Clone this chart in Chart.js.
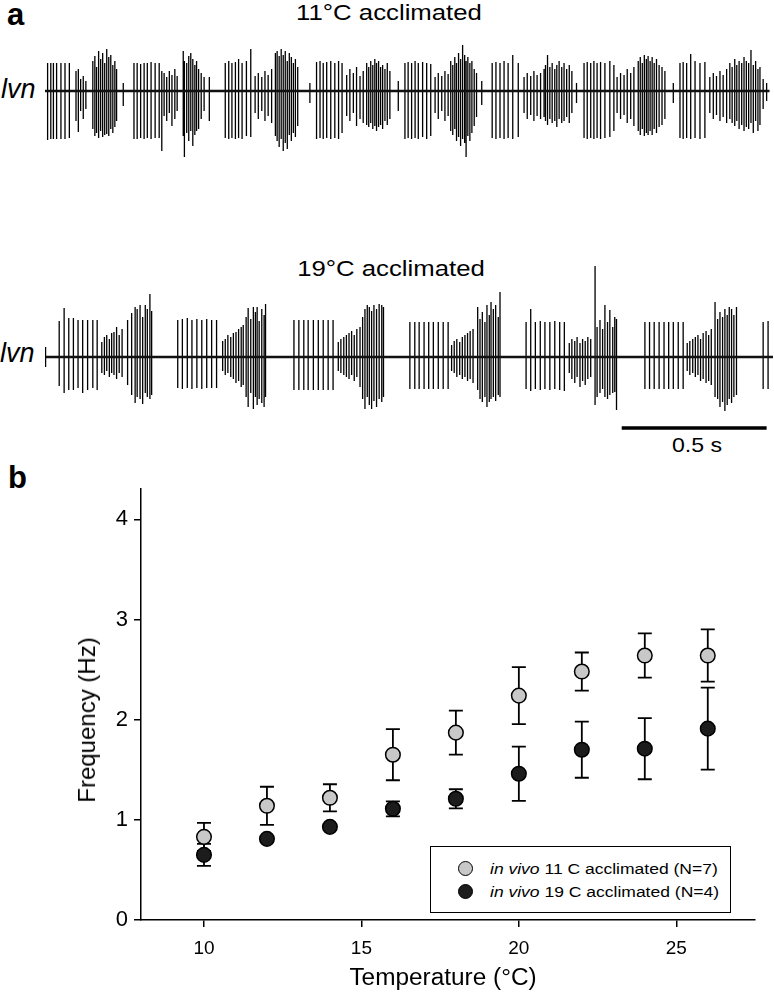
<!DOCTYPE html>
<html>
<head>
<meta charset="utf-8">
<script src="https://cdn.jsdelivr.net/npm/chart.js@4.4.0/dist/chart.umd.min.js"></script>
<style>
  body { margin: 0; background: #fff; width: 774px; height: 995px; position: relative; overflow: hidden;
         font-family: "Liberation Sans", Arial, sans-serif; color: #000; }
  canvas { position: absolute; }
  .txt { position: absolute; line-height: 1; white-space: nowrap; }
  #legend { position: absolute; left: 430px; top: 846px; width: 301px; height: 67px; box-sizing: border-box;
            border: 1.5px solid #000; background: #fff; }
  .leg-row { position: absolute; left: 0; height: 20px; }
  .leg-dot { position: absolute; width: 15px; height: 15px; border-radius: 50%; box-sizing: border-box; border: 1.5px solid #000; }
  .leg-txt { position: absolute; font-size: 14px; line-height: 1; white-space: nowrap; transform: scaleX(1.25); transform-origin: left center; }
</style>
</head>
<body>

<div class="txt" style="left:7px; top:-1px; font-size:31px; font-weight:bold;">a</div>
<div class="txt" style="left:8px; top:462px; font-size:31px; font-weight:bold;">b</div>

<div class="txt" style="left:389px; top:2px; font-size:22px; transform:translateX(-50%) scaleX(1.17);">11°C acclimated</div>
<div class="txt" style="left:391px; top:258px; font-size:22px; transform:translateX(-50%) scaleX(1.17);">19°C acclimated</div>
<div class="txt" style="left:1px; top:76px; font-size:27px; font-style:italic;">lvn</div>
<div class="txt" style="left:0px; top:340px; font-size:27px; font-style:italic;">lvn</div>
<div class="txt" style="left:697px; top:434px; font-size:21px; transform:translateX(-50%) scaleX(1.1);">0.5 s</div>

<canvas id="trace11" width="728" height="130" style="left:45px; top:36px;"></canvas>
<canvas id="trace19" width="728" height="180" style="left:45px; top:262px;"></canvas>
<canvas id="freqChart" width="774" height="525" style="left:0px; top:470px;"></canvas>

<div class="txt" style="left:87px; top:720px; font-size:24px; transform:translate(-50%,-50%) rotate(-90deg);">Frequency (Hz)</div>
<div class="txt" style="left:443px; top:966px; font-size:23px; transform:translateX(-50%) scaleX(1.06);">Temperature (°C)</div>

<div id="legend"></div>

<script>
// ---- panel a: lvn recordings, spikes as [time ms, up amplitude, down amplitude] ----
const spikes11 = [
  [9,28,49],[20,28,48],[29,28,48],[40,28,48],[55,28,48],[69,28,48],[84,28,47],
  [107,20,30],[115,22,41],[123,12,20],[132,15,28],[141,10,18],
  [165,30,38],[172,35,45],[178,24,42],[185,40,47],[192,32,40],[199,38,46],[206,28,44],[213,42,43],[220,34,45],[227,36,38],[234,26,42],[241,30,36],[247,22,30],
  [270,8,15],
  [307,28,48],[318,28,48],[330,27,47],[342,28,48],[353,28,47],[366,29,48],[380,28,47],[394,28,47],[403,20,60],
  [411,18,25],[420,14,30],[429,20,22],[438,16,35],[448,22,28],[456,15,20],
  [477,40,45],[481,30,66],[489,28,42],[496,35,50],[503,38,40],[510,32,55],[517,26,44],[523,30,40],[530,22,38],[539,18,28],[549,14,20],
  [567,14,30],
  [622,28,47],[634,30,48],[645,28,47],[657,29,48],[668,32,47],[680,28,48],[695,30,45],[710,42,46],
  [725,15,22],[736,18,28],[748,14,20],[759,20,30],[770,16,25],[782,22,32],
  [795,38,45],[801,40,50],[808,35,56],[815,42,48],[822,36,60],[829,40,52],[836,30,58],[843,38,44],[850,34,50],[857,28,42],[864,32,46],[872,24,35],
  [914,8,12],
  [937,29,48],[949,30,47],[960,28,48],[972,29,47],[986,30,48],[1000,28,47],[1013,30,48],[1025,28,42],
  [1041,16,25],[1052,22,30],[1064,18,22],[1075,24,35],[1087,15,28],[1098,20,32],
  [1110,28,34],[1117,24,36],[1124,30,32],[1131,26,38],[1138,32,35],[1144,28,40],[1151,30,36],[1158,24,34],[1165,26,38],[1173,22,30],[1181,28,34],[1190,20,28],
  [1219,10,20],
  [1242,28,48],[1253,29,47],[1265,28,48],[1277,30,47],[1288,28,48],[1303,29,46],[1317,28,48],[1331,27,45],
  [1346,14,22],[1357,18,28],[1369,15,20],[1380,20,30],[1391,17,25],
  [1400,30,40],[1407,26,44],[1414,34,38],[1420,28,50],[1427,38,46],[1434,32,55],[1441,46,48],[1448,36,52],[1453,30,66],[1459,34,45],[1466,28,50],[1473,30,42],[1481,22,35],[1489,18,26],
  [1507,10,14],
  [1543,28,47],[1556,29,48],[1570,28,47],[1584,30,48],[1598,28,47],[1614,36,48],[1633,28,46],
  [1653,14,22],[1664,18,28],[1676,15,24],[1687,20,30],[1698,16,25],[1710,18,28],
  [1722,22,26],[1727,26,30],[1734,36,34],[1742,24,28],[1750,28,32],[1759,22,30],[1766,26,36],[1774,30,28],[1783,24,32],[1791,28,30],[1800,22,26],[1809,26,32],[1818,20,22],
  [1834,8,12],
  [1860,28,47],[1871,29,48],[1883,28,47],[1894,30,48],[1905,28,47],[1917,29,48],[1932,28,47],[1949,30,46],[1963,26,40],
  [1974,14,22],[1986,18,28],[1998,16,24],[2009,22,32],[2021,18,28],[2032,24,35],
  [2047,30,40],[2054,34,44],[2061,28,38],[2068,36,45],[2075,32,42],[2081,35,44],[2088,30,40],[2095,34,44],[2102,28,38],[2110,32,42],[2119,26,36],[2129,24,34],[2139,20,28],
  [2168,8,12],
  [2191,28,47],[2202,29,48],[2214,28,47],[2228,37,48],[2243,30,47],[2260,28,48],[2277,29,47],
  [2294,14,22],[2306,18,28],[2317,15,24],[2329,20,30],[2340,16,26],[2352,22,32],
  [2363,28,28],[2371,24,32],[2380,32,35],[2387,26,30],[2395,30,38],[2404,28,34],[2412,34,40],[2420,30,36],[2428,28,38],[2436,41,32],[2444,26,42],[2452,30,30],[2460,22,40],[2467,24,34],
  [2478,12,18],[2490,8,10]
];

const spikes19 = [
  [2,10,10],
  [49,36,29],[66,49,36],[82,39,33],[98,39,33],[114,37,31],[130,37,36],[147,37,33],[165,37,31],[180,37,33],
  [196,15,16],[205,20,18],[213,22,14],[222,18,20],[230,24,16],[238,25,18],[247,30,22],[256,22,16],[266,28,20],
  [285,37,28],[299,44,38],[311,50,46],[318,48,40],[328,52,42],[337,40,47],[346,52,36],[353,48,40],[362,63,42],[368,46,38],
  [458,37,31],[474,38,32],[491,39,31],[507,37,32],[524,38,31],[541,37,32],[558,38,31],[575,37,31],[592,37,31],
  [613,16,14],[622,18,18],[631,22,16],[641,20,20],[650,24,22],[659,25,26],[668,28,24],[677,30,30],
  [684,32,28],[694,40,40],[701,49,50],[710,38,36],[719,50,52],[726,45,40],[732,50,48],[739,36,42],[748,48,46],[756,42,50],[761,53,40],
  [859,37,33],[876,37,33],[893,37,33],[908,37,33],[926,37,33],[943,37,33],[960,37,33],[977,37,33],[994,37,33],
  [1012,15,14],[1021,18,16],[1031,20,18],[1040,22,20],[1049,24,22],[1058,26,18],[1067,22,24],[1076,28,20],
  [1087,30,30],[1096,40,42],[1104,48,52],[1112,52,40],[1119,50,48],[1127,46,52],[1135,52,44],[1144,48,50],[1153,53,42],[1162,52,45],[1168,50,40],
  [1259,35,32],[1276,35,32],[1291,35,32],[1308,35,32],[1324,35,32],[1340,35,32],[1357,35,32],[1374,35,32],[1391,35,32],
  [1403,12,14],[1412,16,16],[1421,18,20],[1431,15,18],[1440,20,22],[1449,22,20],[1458,24,24],[1467,26,22],[1477,28,26],
  [1493,50,33],[1501,38,42],[1509,45,45],[1518,35,40],[1525,52,50],[1533,42,45],[1539,55,42],[1547,48,40],[1555,52,44],[1564,40,38],[1570,65,40],
  [1660,35,32],[1676,48,34],[1692,35,32],[1709,36,33],[1725,35,32],[1742,35,33],[1759,36,32],[1776,35,33],[1792,35,34],
  [1809,14,16],[1818,18,22],[1828,16,26],[1836,20,20],[1846,14,30],[1855,18,24],[1864,16,28],[1873,20,22],[1883,18,20],
  [1898,91,48],[1905,30,40],[1915,37,36],[1924,28,32],[1932,52,40],[1941,35,42],[1949,47,38],[1959,30,36],[1966,40,35],[1972,38,53],
  [2070,35,32],[2086,35,32],[2102,35,32],[2119,35,32],[2136,35,32],[2152,35,32],[2168,35,32],[2185,35,32],[2202,35,32],
  [2216,14,14],[2225,16,18],[2235,18,16],[2244,20,20],[2253,22,18],[2262,18,24],[2271,24,22],[2281,26,26],[2290,22,24],[2299,28,28],
  [2312,55,40],[2321,38,42],[2329,45,50],[2338,40,45],[2346,48,54],[2354,42,48],[2361,50,42],[2369,48,46],[2377,42,40],[2386,50,38],
  [2478,35,32],[2495,36,32]
];

const traceSpan11 = [0, 2500];    // ms
const traceSpan19 = [2, 2512];    // ms
const scaleBar = [1990, 2490];    // 0.5 s
const scaleBarLevel = -71;

// ---- panel b: burst frequency vs temperature ----
const temps = [10, 12, 14, 16, 18, 20, 22, 24, 26];
const freq11 = [0.83, 1.14, 1.22, 1.65, 1.87, 2.24, 2.48, 2.64, 2.64];
const sem11  = [0.14, 0.19, 0.135, 0.255, 0.22, 0.285, 0.19, 0.22, 0.26];
const freq19 = [0.65, 0.81, 0.93, 1.11, 1.21, 1.46, 1.70, 1.71, 1.91];
const sem19  = [0.11, 0.03, 0.03, 0.075, 0.095, 0.27, 0.28, 0.305, 0.41];
const tempTicks = [10, 15, 20, 25];
const freqTicks = [0, 1, 2, 3, 4];
const seriesNames = ['11 C acclimated (N=7)', '19 C acclimated (N=4)'];
const seriesColors = ['#c8c8c8', '#1c1c1c'];

const FONT = '"Liberation Sans", Arial, sans-serif';

// cada espiga: subir, bajar y volver a la linea base
function buildTrace(spikes) {
    let pts = [];
    spikes.forEach(function (s) {
        pts.push({ x: s[0], y: 0 }, { x: s[0], y: s[1] }, { x: s[0], y: -s[2] }, { x: s[0], y: 0 });
    });
    return pts;
}

function traceChart(id, spikes, span, yMin, yMax, extra) {
    let datasets = [
        { data: [{ x: span[0], y: 0 }, { x: span[1], y: 0 }], showLine: true, pointRadius: 0, borderColor: '#111', borderWidth: 2.6 },
        { data: buildTrace(spikes), showLine: true, pointRadius: 0, borderColor: '#000', borderWidth: 1.3, tension: 0 }
    ];
    if (extra) datasets.push(extra);
    return new Chart(document.getElementById(id), {
        type: 'scatter',
        data: { datasets: datasets },
        options: {
            responsive: false,
            animation: false,
            events: [],
            clip: false,
            layout: { padding: 0 },
            plugins: { legend: { display: false }, tooltip: { enabled: false } },
            scales: {
                x: { type: 'linear', display: false, min: 0, max: 2512 },
                y: { display: false, min: yMin, max: yMax }
            }
        }
    });
}

traceChart('trace11', spikes11, traceSpan11, -75, 55);
traceChart('trace19', spikes19, traceSpan19, -85, 95, {
    data: [{ x: scaleBar[0], y: scaleBarLevel }, { x: scaleBar[1], y: scaleBarLevel }],
    showLine: true, pointRadius: 0, borderColor: '#000', borderWidth: 3.5
});

// barras de error (SEM) dibujadas antes de los puntos
const errorBars = {
    id: 'errorBars',
    beforeDatasetsDraw(chart) {
        const ctx = chart.ctx;
        const xs = chart.scales.x, ys = chart.scales.y;
        ctx.save();
        ctx.strokeStyle = '#000';
        ctx.lineWidth = 1.8;
        chart.data.datasets.forEach(function (ds) {
            ds.data.forEach(function (p, i) {
                const px = xs.getPixelForValue(p.x);
                const top = ys.getPixelForValue(p.y + ds.sem[i]);
                const bot = ys.getPixelForValue(p.y - ds.sem[i]);
                ctx.beginPath();
                ctx.moveTo(px, top); ctx.lineTo(px, bot);
                ctx.moveTo(px - 7, top); ctx.lineTo(px + 7, top);
                ctx.moveTo(px - 7, bot); ctx.lineTo(px + 7, bot);
                ctx.stroke();
            });
        });
        ctx.restore();
    }
};

const freqData = [freq11, freq19];
const semData = [sem11, sem19];

new Chart(document.getElementById('freqChart'), {
    type: 'scatter',
    data: {
        datasets: seriesNames.map(function (name, k) {
            return {
                label: 'in vivo ' + name,
                data: temps.map(function (t, i) { return { x: t, y: freqData[k][i] }; }),
                sem: semData[k],
                pointRadius: 7.3,
                pointBorderWidth: 1.5,
                pointBackgroundColor: seriesColors[k],
                pointBorderColor: '#000'
            };
        })
    },
    options: {
        responsive: false,
        animation: false,
        events: [],
        layout: { padding: { top: 19, right: 19, left: 0, bottom: 0 } },
        plugins: { legend: { display: false }, tooltip: { enabled: false } },
        scales: {
            x: {
                type: 'linear', min: 8, max: 27.5,
                afterBuildTicks: function (s) { s.ticks = tempTicks.map(function (v) { return { value: v }; }); },
                afterFit: function (s) { s.height = 75; },
                border: { color: '#000', width: 1.5 },
                grid: { drawOnChartArea: false, color: '#000', lineWidth: 1.5, tickLength: 7 },
                ticks: { color: '#000', padding: 10, font: { size: 19, family: FONT } }
            },
            y: {
                min: 0, max: 4.3,
                afterBuildTicks: function (s) { s.ticks = freqTicks.map(function (v) { return { value: v }; }); },
                afterFit: function (s) { s.width = 141; },
                border: { color: '#000', width: 1.5 },
                grid: { drawOnChartArea: false, color: '#000', lineWidth: 1.5, tickLength: 7 },
                ticks: { color: '#000', padding: 6, font: { size: 22, family: FONT } }
            }
        }
    },
    plugins: [errorBars]
});

// leyenda
const legend = document.getElementById('legend');
seriesNames.forEach(function (name, k) {
    const row = document.createElement('div');
    row.className = 'leg-row';
    row.style.top = (12 + k * 23) + 'px';
    row.innerHTML = '<div class="leg-dot" style="left:27px; top:2px; background:' + seriesColors[k] + ';"></div>' +
        '<div class="leg-txt" style="left:59px; top:3px;"><i>in vivo</i> ' + name + '</div>';
    legend.appendChild(row);
});
</script>
</body>
</html>
